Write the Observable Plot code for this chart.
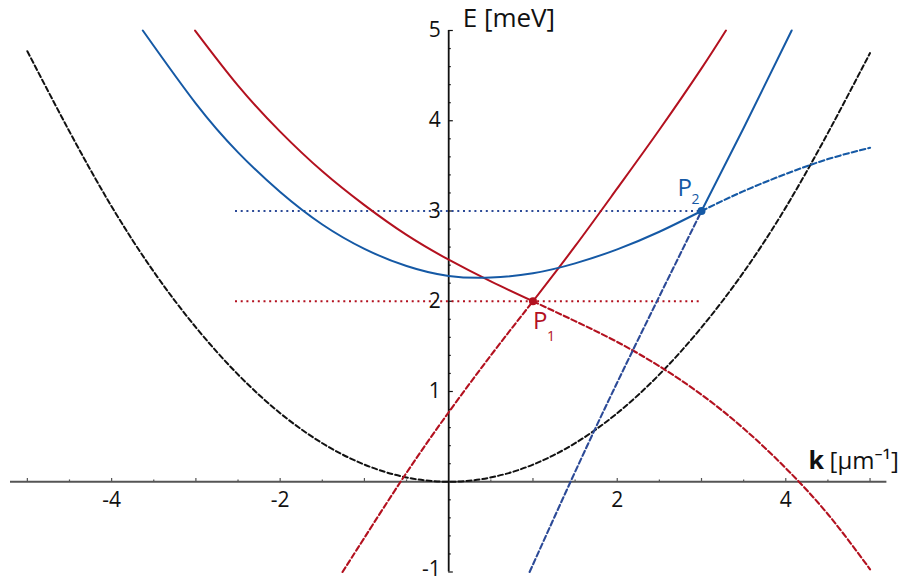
<!DOCTYPE html>
<html><head><meta charset="utf-8">
<script src="https://cdn.jsdelivr.net/npm/d3@7"></script>
<script src="https://cdn.jsdelivr.net/npm/@observablehq/plot@0.6"></script>
<style>html,body{margin:0;padding:0;background:#fff;} svg{display:block}</style>
</head><body><div id="chart"></div>
<script>
// ---- data (k in µm^-1, E in meV) ----
const blackParabola = [[-5,4.77],[-4,3.05],[-3,1.71],[-2,0.76],[-1,0.19],[0,0],[1,0.19],[2,0.76],[3,1.71],[4,3.04],[5,4.75]];

const redUpperSolidLeft  = [[-3.01,5.0],[-2.5,4.39],[-2,3.88],[-1.5,3.44],[-1,3.065],[-0.5,2.735],[0,2.46],[0.5,2.22],[1,2]];
const redLowerDashedRight = [[1,2],[1.5,1.78],[2,1.549],[2.5,1.28],[3,0.965],[3.5,0.59],[4,0.15],[4.5,-0.36],[5,-0.97]];
const redLowerDashedLeft = [[-1.26,-1.0],[-1,-0.62],[-0.5,0.1],[0,0.77],[0.5,1.4],[1,2]];
const redUpperSolidRight = [[1,2],[1.5,2.61],[2,3.25],[2.5,3.9],[3,4.58],[3.29,5.0]];

const blueUpperSolidLeft  = [[-3.63,5.0],[-3,4.19],[-2.5,3.65],[-2,3.21],[-1.5,2.85],[-1,2.58],[-0.5,2.39],[0,2.28],[0.5,2.262],[1,2.31],[1.5,2.42],[2,2.575],[2.5,2.77],[3,3]];
const blueLowerDashedRight = [[3,3],[3.5,3.22],[4,3.41],[4.5,3.575],[5,3.70]];
const blueLowerDashedLeft = [[0.96,-1.0],[1.5,0.11],[2,1.1],[2.5,2.055],[3,3]];
const blueUpperSolidRight = [[3,3],[3.5,3.92],[4.07,5.0]];

const pumpRed = [[1,2]];
const pumpBlue = [[3,3]];
const redLevel = [[2,-2.53,3.0]];   // [E, kFrom, kTo]
const blueLevel = [[3,-2.53,3.0]];

const xTickLabels = [-4,-2,2,4];
const yTickLabels = [1,2,3,4,5];
const yTickLabelsBottom = [-1];
const xMinorTicks = d3.range(-5,5.01,0.5);
const yMinorTicks = d3.range(-1,5.01,0.2).map(v=>+v.toFixed(2));

// ---- styles ----
const RED = "#b3111f", BLUE = "#1559a5", NAVY = "#2c4a97", BLACK = "#111111";
const FONT = "'Open Sans', 'Noto Sans', sans-serif";

const pts = a => a.map(([k,E]) => ({k,E}));
const curve = (a, stroke, dash, w = 2) => Plot.line(pts(a), {x:"k", y:"E", curve:"natural", stroke, strokeWidth:w, strokeDasharray:dash});

const chart = Plot.plot({
  width: 904, height: 581,
  marginLeft: 10, marginRight: 17.6, marginTop: 30, marginBottom: 9.5,
  x: {domain: [-5.2, 5.2], axis: null},
  y: {domain: [-1, 5], axis: null},
  style: {fontFamily: FONT, background: "#fff"},
  marks: [
    // axes
    Plot.ruleY([0], {stroke: "#555", strokeWidth: 2}),
    Plot.ruleX([0], {y1: -1, y2: 5, stroke: "#111", strokeWidth: 1.8}),
    Plot.ruleX(xMinorTicks.filter(v => v !== 0), {x: d => d, y1: 0, y2: d => Number.isInteger(d) ? 0.036 : 0.02, stroke: "#555", strokeWidth: 1.2}),
    Plot.ruleY(yMinorTicks.filter(v => v !== 0), {y: d => d, x1: 0, x2: d => Number.isInteger(d) ? 0.055 : 0.03, stroke: "#111", strokeWidth: 1.2}),
    // level lines
    Plot.ruleY(redLevel, {y: d => d[0], x1: d => d[1], x2: d => d[2], stroke: RED, strokeWidth: 2, strokeDasharray: "2,3.7"}),
    Plot.ruleY(blueLevel, {y: d => d[0], x1: d => d[1], x2: d => d[2], stroke: NAVY, strokeWidth: 2, strokeDasharray: "2,3.7"}),
    // curves
    curve(blackParabola, BLACK, "5,3", 2),
    curve(redLowerDashedRight, RED, "5.5,3", 2.1),
    curve(redLowerDashedLeft, RED, "5.5,3", 2.1),
    curve(blueLowerDashedRight, BLUE, "5.5,3", 2.1),
    curve(blueLowerDashedLeft, NAVY, "5.5,3", 2.1),
    curve(redUpperSolidLeft, RED),
    curve(redUpperSolidRight, RED),
    curve(blueUpperSolidLeft, BLUE),
    curve(blueUpperSolidRight, BLUE),
    // pump points
    Plot.dot(pumpRed, {x: d => d[0], y: d => d[1], r: 4, fill: RED}),
    Plot.dot(pumpBlue, {x: d => d[0], y: d => d[1], r: 4, fill: BLUE}),
    Plot.text(pumpRed, {x: d => d[0], y: d => d[1], text: () => "P", dx: 0, dy: 28, lineAnchor: "bottom", textAnchor: "start", fontSize: 24, fill: RED}),
    Plot.text(pumpRed, {x: d => d[0], y: d => d[1], text: () => "1", dx: 14, dy: 40, lineAnchor: "bottom", textAnchor: "start", fontSize: 14, fill: RED}),
    Plot.text(pumpBlue, {x: d => d[0], y: d => d[1], text: () => "P", dx: -24, dy: -15, lineAnchor: "bottom", textAnchor: "start", fontSize: 24, fill: BLUE}),
    Plot.text(pumpBlue, {x: d => d[0], y: d => d[1], text: () => "2", dx: -10, dy: -7, lineAnchor: "bottom", textAnchor: "start", fontSize: 14, fill: BLUE}),
    // tick labels
    Plot.text(xTickLabels, {x: d => d, y: 0, text: d => String(d), dy: 19, fontSize: 21, fill: "#111"}),
    Plot.text(yTickLabels, {x: 0, y: d => d, text: d => String(d), dx: -8, textAnchor: "end", fontSize: 21, fill: "#111"}),
    Plot.text(yTickLabelsBottom, {x: 0, y: d => d, text: d => String(d), dx: -8, dy: -3, textAnchor: "end", fontSize: 21, fill: "#111"}),
    // axis titles
    Plot.text(["E [meV]"], {x: 0, y: 5, text: d => d, dx: 14, dy: -4, lineAnchor: "bottom", textAnchor: "start", fontSize: 26, fill: "#111"}),
    Plot.text(["k"], {x: 4.27, y: 0, text: d => d, dy: -13, lineAnchor: "bottom", textAnchor: "start", fontSize: 25, fontWeight: "bold", fill: "#111"}),
    Plot.text(["[μm⁻¹]"], {x: 4.27, y: 0, text: d => d, dx: 21, dy: -13, lineAnchor: "bottom", textAnchor: "start", fontSize: 24, fill: "#111"})
  ]
});
document.getElementById("chart").appendChild(chart);
</script>
</body></html>
